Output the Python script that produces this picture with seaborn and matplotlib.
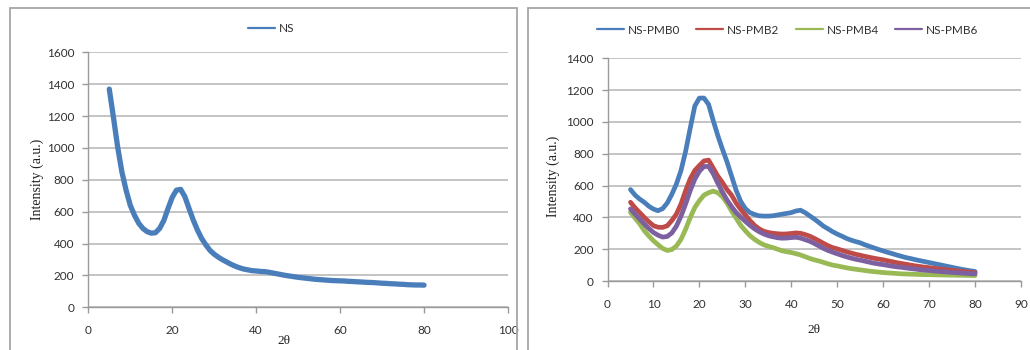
import numpy as np
import pandas as pd
import matplotlib
matplotlib.use("Agg")
import matplotlib.pyplot as plt
from matplotlib.patches import Rectangle
import seaborn as sns

# ---------------- data ----------------
two_theta = list(range(5, 81))

ns = [1369, 1190, 1005, 850, 735, 640, 578, 528, 495, 475,
      465, 468, 495, 545, 620, 690, 735, 740, 695, 620,
      548, 485, 432, 392, 357, 333, 314, 298, 284, 270,
      258, 248, 240, 235, 230, 228, 225, 224, 220, 215,
      210, 205, 200, 196, 192, 188, 185, 182, 179, 176,
      174, 172, 170, 168, 167, 166, 165, 163, 162, 160,
      159, 157, 156, 155, 153, 151, 150, 148, 147, 145,
      144, 142, 141, 140, 140, 139]

pmb0 = [575, 540, 515, 495, 470, 452, 442, 455, 490, 545,
        610, 695, 815, 960, 1100, 1150, 1150, 1110, 1010, 915,
        830, 750, 660, 570, 500, 455, 430, 418, 410, 408,
        408, 410, 415, 420, 425, 430, 440, 445, 430, 410,
        390, 368, 345, 328, 310, 295, 282, 268, 257, 248,
        240, 228, 218, 208, 198, 189, 180, 172, 163, 155,
        147, 141, 134, 128, 122, 116, 110, 104, 98, 92,
        86, 80, 74, 69, 64, 60]

pmb2 = [495, 460, 430, 400, 372, 348, 338, 337, 347, 380,
        421, 484, 568, 642, 695, 726, 755, 760, 710, 660,
        620, 575, 540, 490, 450, 415, 380, 350, 328, 313,
        305, 300, 297, 295, 296, 299, 302, 300, 292, 282,
        268, 253, 237, 222, 210, 202, 193, 184, 176, 168,
        162, 155, 149, 143, 138, 133, 127, 121, 115, 110,
        105, 100, 95, 91, 87, 84, 80, 77, 73, 70,
        67, 64, 61, 58, 55, 52]

pmb4 = [432, 395, 360, 316, 283, 253, 228, 205, 192, 198,
        220, 262, 325, 398, 462, 505, 540, 555, 565, 555,
        530, 490, 440, 395, 350, 316, 285, 262, 243, 228,
        218, 210, 200, 190, 184, 179, 172, 164, 153, 142,
        133, 126, 117, 108, 100, 95, 89, 83, 78, 74,
        70, 66, 62, 59, 56, 53, 51, 49, 47, 45,
        44, 43, 42, 41, 40, 40, 39, 38, 38, 37,
        37, 36, 36, 35, 35, 34]

pmb6 = [453, 420, 390, 358, 330, 305, 288, 276, 280, 302,
        345, 408, 484, 568, 640, 690, 720, 720, 675, 615,
        560, 510, 468, 430, 402, 375, 350, 328, 310, 296,
        285, 278, 272, 269, 270, 273, 275, 270, 260, 250,
        236, 221, 205, 192, 181, 171, 161, 152, 144, 137,
        131, 125, 118, 112, 107, 103, 98, 93, 89, 86,
        82, 78, 75, 71, 68, 66, 63, 61, 58, 56,
        54, 52, 50, 48, 46, 45]

right_names = ["NS-PMB0", "NS-PMB2", "NS-PMB4", "NS-PMB6"]
right_values = [pmb0, pmb2, pmb4, pmb6]
right_colors = ["#4a7ebb", "#be4b48", "#98b954", "#7d60a0"]
left_name = "NS"
left_color = "#4a7ebb"

left_xticks = [0, 20, 40, 60, 80, 100]
left_yticks = [0, 200, 400, 600, 800, 1000, 1200, 1400, 1600]
right_xticks = [0, 10, 20, 30, 40, 50, 60, 70, 80, 90]
right_yticks = [0, 200, 400, 600, 800, 1000, 1200, 1400]

# ---------------- style ----------------
sns.set_theme(style="white")
plt.rcParams["font.family"] = ["Lato", "DejaVu Sans"]

W, H = 1030, 350
fig = plt.figure(figsize=(W / 100, H / 100), dpi=100)
fig.patch.set_facecolor("white")

# panel frames
fig.patches.append(Rectangle((10 / W, -0.02), (517 - 10) / W, 1 - 8 / H + 0.02,
                             transform=fig.transFigure, fill=False,
                             edgecolor="#a6a6a6", lw=1.3, zorder=0))
fig.patches.append(Rectangle((528 / W, -0.02), 0.5, 1 - 8 / H + 0.02,
                             transform=fig.transFigure, fill=False,
                             edgecolor="#a6a6a6", lw=1.3, zorder=0))

axL = fig.add_axes([88.3 / W, 1 - 307.3 / H, (508 - 88.3) / W, (307.3 - 52.3) / H])
axR = fig.add_axes([607.5 / W, 1 - 281 / H, (1021 - 607.5) / W, (281 - 58.3) / H])

dfL = pd.DataFrame({"2θ": two_theta, "I": ns})
sns.lineplot(data=dfL, x="2θ", y="I", ax=axL, color=left_color, lw=3.8,
             label=left_name, legend=False)

for i, (nm, vals, col) in enumerate(zip(right_names, right_values, right_colors)):
    df = pd.DataFrame({"2θ": two_theta, "I": vals})
    sns.lineplot(data=df, x="2θ", y="I", ax=axR, color=col, lw=3.4,
                 label=nm, legend=False, zorder=2 + i)

serif = ["Liberation Serif", "DejaVu Serif"]
for ax, xt, yt, xl, yl in [(axL, left_xticks, left_yticks, (0, 100), (0, 1600)),
                           (axR, right_xticks, right_yticks, (0, 90), (0, 1400))]:
    ax.set_xlim(*xl)
    ax.set_ylim(*yl)
    ax.set_xticks(xt)
    ax.set_yticks(yt)
    ax.set_facecolor("white")
    ax.grid(axis="y", color="#b4b4b4", lw=1.1)
    ax.grid(axis="x", visible=False)
    ax.set_axisbelow(True)
    for s in ["top", "right"]:
        ax.spines[s].set_visible(False)
    for s in ["left", "bottom"]:
        ax.spines[s].set_color("#9a9a9a")
        ax.spines[s].set_linewidth(1.0)
    ax.tick_params(axis="both", which="major", direction="out", length=4,
                   width=1.0, color="#9a9a9a", labelsize=8.5,
                   labelcolor="#303030", left=True, bottom=True)
    ax.tick_params(axis="y", pad=6)
    ax.tick_params(axis="x", pad=9)
    ax.set_xlabel("2θ", fontfamily=serif, fontsize=9.5, color="#202020")
    ax.set_ylabel("Intensity (a.u.)", fontfamily=serif, fontsize=10, color="#202020")

axL.xaxis.set_label_coords(0.467, -0.11)
axL.yaxis.set_label_coords(-0.105, 0.5)
axR.xaxis.set_label_coords(0.5, -0.195)
axR.yaxis.set_label_coords(-0.115, 0.47)

hL, lL = axL.get_legend_handles_labels()
fig.legend(hL, lL, loc="center", bbox_to_anchor=(271 / W, 1 - 29 / H),
           frameon=False, fontsize=8.5, handlelength=2.3, handletextpad=0.3,
           labelcolor="#303030")
hR, lR = axR.get_legend_handles_labels()
fig.legend(hR, lR, loc="center", bbox_to_anchor=(787.5 / W, 1 - 30 / H),
           frameon=False, fontsize=8.5, ncol=4, handlelength=2.3,
           handletextpad=0.3, columnspacing=1.4, labelcolor="#303030")
for leg in fig.legends:
    for ln in leg.get_lines():
        ln.set_linewidth(1.6)

fig.savefig("out.png", dpi=100, facecolor="white")
